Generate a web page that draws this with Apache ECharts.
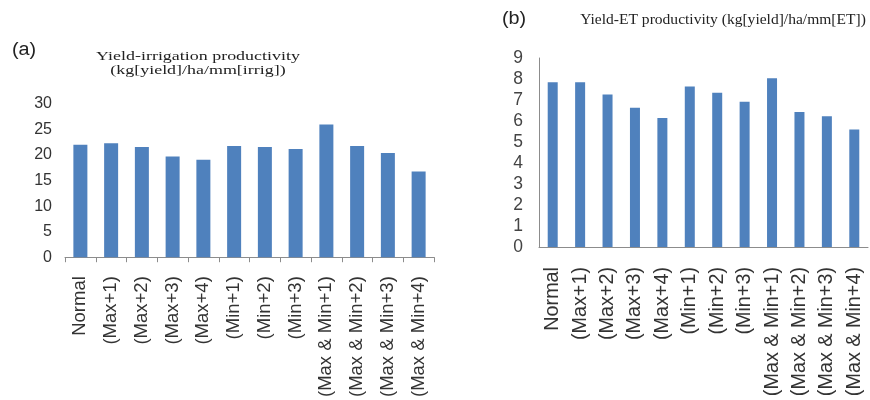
<!DOCTYPE html>
<html><head><meta charset="utf-8">
<script src="https://cdn.jsdelivr.net/npm/echarts@6/dist/echarts.min.js"></script>
<style>html,body{margin:0;padding:0;background:#fff}#c{width:870px;height:400px}</style>
</head><body><div id="c"></div>
<script>
const categories = ['Normal','(Max+1)','(Max+2)','(Max+3)','(Max+4)','(Min+1)','(Min+2)','(Min+3)','(Max & Min+1)','(Max & Min+2)','(Max & Min+3)','(Max & Min+4)'];
const irrigValues = [22.0, 22.3, 21.6, 19.7, 19.1, 21.8, 21.6, 21.2, 26.0, 21.8, 20.4, 16.8];
const etValues = [7.85, 7.85, 7.26, 6.63, 6.14, 7.64, 7.35, 6.92, 8.04, 6.43, 6.23, 5.6];
const titleA = 'Yield-irrigation productivity\n(kg[yield]/ha/mm[irrig])';
const titleB = 'Yield-ET productivity (kg[yield]/ha/mm[ET])';

const chart = echarts.init(document.getElementById('c'), null, {renderer:'canvas'});
const barColor = '#4F81BD';
const axisGray = '#8c8c8c';
chart.setOption({
  animation: false,
  graphic: [
    {type:'text', x: 12, y: 41, scaleX: 1.1, style:{text:'(a)', font:'18px "Liberation Sans"', fill:'#222', textVerticalAlign:'top'}},
    {type:'text', x: 198, y: 50, scaleX: 1.38, style:{text:titleA, textAlign:'center', textVerticalAlign:'top', font:'13px "Liberation Serif"', lineHeight:13.5, fill:'#222'}},
    {type:'text', x: 502, y: 10, scaleX: 1.1, style:{text:'(b)', font:'18px "Liberation Sans"', fill:'#222', textVerticalAlign:'top'}},
    {type:'text', x: 723, y: 13, scaleX: 1.11, style:{text:titleB, textAlign:'center', textVerticalAlign:'top', font:'14px "Liberation Serif"', fill:'#222'}}
  ],
  grid: [
    {left: 65, right: 436, top: 104, bottom: 142},
    {left: 539, right: 2, top: 58, bottom: 153}
  ],
  xAxis: [
    {type:'category', gridIndex:0, data: categories,
     axisLine:{show:true, lineStyle:{color:axisGray}},
     axisTick:{show:true, length:5, lineStyle:{color:axisGray}},
     axisLabel:{rotate:90, interval:0, margin:19, fontFamily:'Liberation Sans', fontSize:18.5, color:'#333'}},
    {type:'category', gridIndex:1, data: categories,
     axisLine:{show:true, lineStyle:{color:axisGray}},
     axisTick:{show:false},
     axisLabel:{rotate:90, interval:0, margin:20, fontFamily:'Liberation Sans', fontSize:19.8, color:'#333'}}
  ],
  yAxis: [
    {type:'value', gridIndex:0, min:0, max:30, interval:5,
     axisLine:{show:false}, axisTick:{show:false}, splitLine:{show:false},
     axisLabel:{margin:13, fontFamily:'Liberation Sans', fontSize:16, color:'#333'}},
    {type:'value', gridIndex:1, min:0, max:9, interval:1,
     axisLine:{show:true, lineStyle:{color:axisGray}}, axisTick:{show:false}, splitLine:{show:false},
     axisLabel:{margin:16, fontFamily:'Liberation Sans', fontSize:17.5, color:'#444'}}
  ],
  series: [
    {type:'bar', xAxisIndex:0, yAxisIndex:0, data: irrigValues, barWidth:14, itemStyle:{color:barColor}},
    {type:'bar', xAxisIndex:1, yAxisIndex:1, data: etValues, barWidth:10, itemStyle:{color:barColor}}
  ]
});
</script></body></html>
